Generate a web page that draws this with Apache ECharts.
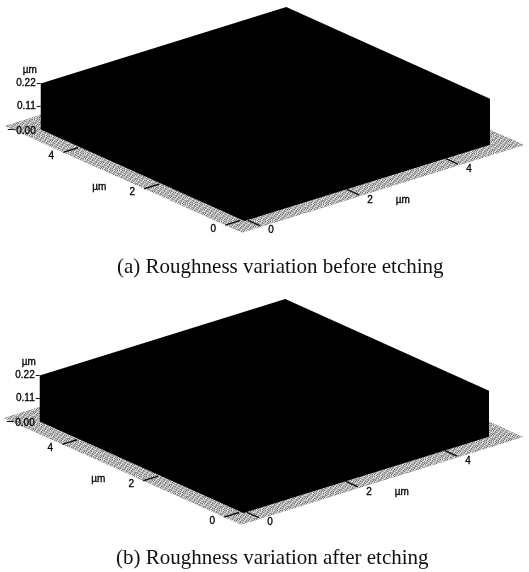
<!DOCTYPE html>
<html><head><meta charset="utf-8">
<style>html,body{margin:0;padding:0;background:#fff}#c{width:529px;height:572px}</style>
<script src="https://cdn.jsdelivr.net/npm/echarts@6/dist/echarts.min.js"></script>
</head><body><div id="c"></div>
<script>
// Data (micrometres)
const captions = ['(a) Roughness variation before etching', '(b) Roughness variation after etching'];
const planeTicks = [0, 2, 4];
const planeTickLabels = ['0', '2', '4'];
const heightTicks = [0, 0.11, 0.22];
const heightTickLabels = ['0.00', '0.11', '0.22'];
const unitLabel = '\u00b5m';
const floorExtent = [-0.4, 5.3, -0.42, 5.45];        // uMin,uMax,vMin,vMax
const blockA = [-0.06, 4.9, -0.06, 4.97, 0.22];      // uMin,uMax,vMin,vMax,height
const blockB = [-0.06, 4.9, -0.06, 4.97, 0.22];

// View projection (µm -> panel units)
const origin = { a: [245, 219], b: [244, 219] };
const uStep = [49.5, -15.4], vStep = [-40.5, -18.2], zStep = 209;
const PANEL_TOP = [0, 292], PANEL_H = 280;

function proj(p, u, v, z) {
  return [origin[p][0] + u * uStep[0] + v * vStep[0],
          origin[p][1] + u * uStep[1] + v * vStep[1] - (z || 0) * zStep];
}
// Halftone texture of the scanned floor
const tile = document.createElement('canvas');
tile.width = tile.height = 17;
(function () {
  const g = tile.getContext('2d');
  const shades = ['#7a7a7a', '#969696', '#b4b4b4', '#cccccc', '#e4e4e4'];
  for (let y = 0; y < 17; y++) for (let x = 0; x < 17; x++) {
    g.fillStyle = shades[(x * x * 3 + y * y * 5 + x * y * 7 + x + y * 2) % 5];
    g.fillRect(x, y, 1, 1);
  }
})();

const font = { fontFamily: 'Liberation Sans', fontSize: 10, fill: '#000', stroke: '#000', lineWidth: 0.3 };

function panelSeries(p, idx, block) {
  const at = (api, u, v, z) => api.coord(proj(p, u, v, z));
  const base = { type: 'custom', xAxisIndex: idx, yAxisIndex: idx, silent: true, clip: false,
                 coordinateSystem: 'cartesian2d', animation: false };
  const poly = (pts, style) => ({ type: 'polygon', shape: { points: pts }, style });
  const line = (a, b, w) => ({ type: 'line', shape: { x1: a[0], y1: a[1], x2: b[0], y2: b[1] },
                               style: { stroke: '#111', lineWidth: w } });
  const text = (pos, t, align) => ({ type: 'text', x: pos[0], y: pos[1],
    style: Object.assign({ text: t, textAlign: align || 'center', textVerticalAlign: 'middle' }, font) });
  return [
    Object.assign({}, base, { name: 'floor' + p, data: [floorExtent], renderItem: (ps, api) => {
      const [a, b, c, d] = [0, 1, 2, 3].map(i => api.value(i));
      return poly([at(api, a, c), at(api, b, c), at(api, b, d), at(api, a, d)],
                  { fill: { image: tile, repeat: 'repeat' } });
    }}),
    Object.assign({}, base, { name: 'block' + p, data: [block], renderItem: (ps, api) => {
      const [a, b, c, d, h] = [0, 1, 2, 3, 4].map(i => api.value(i));
      // silhouette of the dense, saturated surface
      return poly([at(api, a, c), at(api, b, c), at(api, b, c, h), at(api, b, d, h),
                   at(api, a, d, h), at(api, a, d)], { fill: '#000' });
    }}),
    // ticks along the v axis (left edge)
    Object.assign({}, base, { name: 'vTicks' + p, data: planeTicks.map((t, i) => [t, i]), renderItem: (ps, api) => {
      const t = api.value(0);
      return { type: 'group', children: [
        line(at(api, -0.4, t), at(api, -0.1, t), 1.4),
        text(at(api, -0.64, t), planeTickLabels[api.value(1)])
      ]};
    }}),
    // ticks along the u axis (right edge)
    Object.assign({}, base, { name: 'uTicks' + p, data: planeTicks.map((t, i) => [t, i]), renderItem: (ps, api) => {
      const t = api.value(0);
      return { type: 'group', children: [
        line(at(api, t, -0.37), at(api, t, -0.07), 1.4),
        text(at(api, t, -0.64), planeTickLabels[api.value(1)])
      ]};
    }}),
    // height axis
    Object.assign({}, base, { name: 'zTicks' + p, data: heightTicks.map((t, i) => [t, i]), renderItem: (ps, api) => {
      const t = api.value(0);
      const c = at(api, block[0], block[3], t);
      const tick = t === 0 ? line([c[0] - 33, c[1]], [c[0] - 26, c[1]], 1)
                           : line([c[0] - 4, c[1]], [c[0], c[1]], 1);
      return { type: 'group', children: [
        tick, text([c[0] - 5, c[1] + (t === 0 ? 2 : 0)], heightTickLabels[api.value(1)], 'right')
      ]};
    }}),
    // unit labels
    Object.assign({}, base, { name: 'units' + p, data: [[0]], renderItem: (ps, api) => {
      const z = at(api, block[0], block[3], 0.282);
      return { type: 'group', children: [
        text([z[0] - 11, z[1]], unitLabel),
        text(at(api, -0.9, 2.5), unitLabel),
        text(at(api, 2.37, -1.0), unitLabel)
      ]};
    }})
  ];
}

const grids = PANEL_TOP.map(t => ({ left: 0, width: 529, top: t, height: PANEL_H }));
const xAxes = PANEL_TOP.map((t, i) => ({ type: 'value', gridIndex: i, min: 0, max: 529, show: false }));
const yAxes = PANEL_TOP.map((t, i) => ({ type: 'value', gridIndex: i, min: 0, max: PANEL_H, inverse: true, show: false }));

const captionStyle = { fontFamily: 'Liberation Serif', fontSize: 21, fontWeight: 'normal', color: '#111' };
const chart = echarts.init(document.getElementById('c'), null, { renderer: 'canvas' });
chart.setOption({
  backgroundColor: '#fff',
  animation: false,
  title: [
    { text: captions[0], left: 117, top: 257, padding: 0, textStyle: captionStyle },
    { text: captions[1], left: 116, top: 548, padding: 0, textStyle: captionStyle }
  ],
  grid: grids, xAxis: xAxes, yAxis: yAxes,
  series: panelSeries('a', 0, blockA).concat(panelSeries('b', 1, blockB))
});
</script></body></html>
